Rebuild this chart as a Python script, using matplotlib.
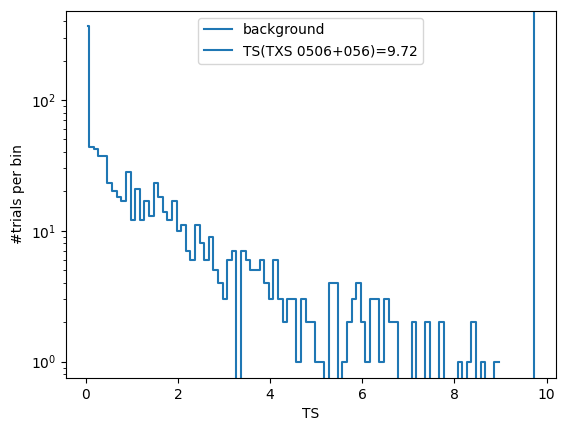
import matplotlib

matplotlib.use("Agg")
import matplotlib.pyplot as plt
import numpy as np

# bin edges of the background TS histogram (first bin is narrow, then 0.1 wide)
edges = [0.04] + [round(0.07 + 0.1 * k, 2) for k in range(90)]
counts = [
    367, 44, 42, 37, 37, 23, 20, 18, 17, 28,
    12, 21, 12, 17, 13, 23, 18, 14, 12, 17,
    10, 11, 7, 6, 11, 8, 6, 9, 5, 4,
    3, 6, 7, 0, 7, 6, 5, 5, 6, 4,
    3, 6, 3, 2, 3, 3, 1, 3, 2, 2,
    1, 1, 0, 4, 4, 0, 1, 2, 3, 4,
    2, 1, 3, 3, 1, 3, 2, 2, 0, 0,
    0, 2, 0, 0, 2, 0, 0, 2, 0, 0,
    0, 1, 0, 1, 2, 0, 1, 0, 0, 1,
]
ts_source = 9.72
source = "TXS 0506+056"

fig, ax = plt.subplots(figsize=(5.7, 4.32), dpi=100)
y = np.array(counts + [counts[-1]], dtype=float)
y[y == 0] = 1e-3  # empty bins fall below the axis
ax.step(edges, y, where="post", color="C0", label="background")
ax.axvline(ts_source, color="C0", label=f"TS({source})={ts_source}")
ax.set_yscale("log")
ax.set_xlim(-0.44, 10.2)
ax.set_ylim(0.75, 480)
ax.set_xlabel("TS")
ax.set_ylabel("#trials per bin")
ax.legend(loc="upper center")
fig.subplots_adjust(left=0.115, right=0.975, top=0.975, bottom=0.125)
fig.savefig("out.png", dpi=100)
